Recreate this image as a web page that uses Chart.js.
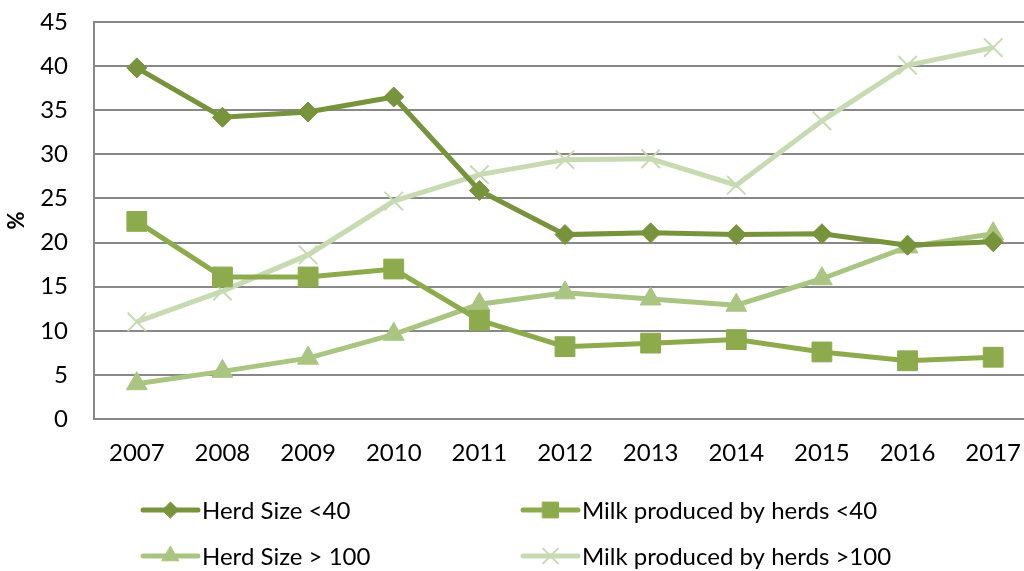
<!DOCTYPE html>
<html>
<head>
<meta charset="utf-8">
<script src="https://cdn.jsdelivr.net/npm/chart.js@4"></script>
<style>
  html, body { margin: 0; padding: 0; background: #fff; overflow: hidden; width: 1024px; height: 571px; }
  #wrap { width: 1040px; height: 571px; }
  #chart { display: block; width: 1040px; height: 571px; }
</style>
</head>
<body>
<div id="wrap"><canvas id="chart" width="1040" height="571"></canvas></div>
<script>
// categories
const years = ["2007", "2008", "2009", "2010", "2011", "2012", "2013", "2014", "2015", "2016", "2017"];
// series values (%)
const herdUnder40 = [39.8, 34.2, 34.8, 36.5, 25.9, 20.9, 21.1, 20.9, 21.0, 19.7, 20.1];
const milkUnder40 = [22.4, 16.1, 16.1, 17.0, 11.2, 8.2, 8.6, 9.0, 7.6, 6.6, 7.0];
const herdOver100 = [4.0, 5.4, 6.9, 9.6, 13.0, 14.3, 13.6, 12.9, 15.9, 19.5, 21.0];
const milkOver100 = [11.0, 14.5, 18.6, 24.7, 27.7, 29.4, 29.5, 26.5, 33.8, 40.1, 42.1];
const seriesNames = ["Herd Size <40", "Milk produced by herds <40", "Herd Size > 100", "Milk produced by herds >100"];

const FONT = "Lato, 'Liberation Sans', sans-serif";
const FSIZE = 24;

// legend drawn by hand: 2 rows x 2 columns under the axis
const legendPlugin = {
    id: "gridLegend",
    afterDraw(chart) {
        const ctx = chart.ctx;
        const cols = [143, 523];
        const rows = [510, 556];
        chart.data.datasets.forEach((ds, i) => {
            const x = cols[i % 2];
            const y = rows[Math.floor(i / 2)];
            ctx.save();
            ctx.strokeStyle = ds.borderColor;
            ctx.lineWidth = 5;
            ctx.lineCap = "round";
            ctx.beginPath();
            ctx.moveTo(x, y);
            ctx.lineTo(x + 55, y);
            ctx.stroke();
            ctx.fillStyle = ds.pointBackgroundColor;
            ctx.strokeStyle = ds.pointBorderColor;
            ctx.lineWidth = ds.pointBorderWidth;
            Chart.helpers.drawPoint(ctx, {
                pointStyle: ds.pointStyle,
                radius: ds.pointRadius * 0.8,
                borderWidth: ds.pointBorderWidth,
                rotation: 0
            }, x + 27.5, y);
            ctx.fillStyle = "#000";
            ctx.font = FSIZE + "px " + FONT;
            ctx.textBaseline = "middle";
            ctx.textAlign = "left";
            ctx.fillText(ds.label, x + 59, y + 1);
            ctx.restore();
        });
    }
};

function series(label, data, color, style, radius, pbw) {
    return {
        label, data,
        borderColor: color,
        backgroundColor: color,
        borderWidth: 5,
        pointStyle: style,
        pointRadius: radius,
        pointHoverRadius: radius,
        pointBackgroundColor: color,
        pointBorderColor: color,
        pointBorderWidth: pbw,
        tension: 0
    };
}

new Chart(document.getElementById("chart"), {
    type: "line",
    data: {
        labels: years,
        datasets: [
            series(seriesNames[0], herdUnder40, "#77933C", "rectRot", 10, 1),
            series(seriesNames[1], milkUnder40, "#8DAB4D", "rect", 14, 1),
            series(seriesNames[2], herdOver100, "#AAC581", "triangle", 12, 1),
            series(seriesNames[3], milkOver100, "#C8DAB2", "crossRot", 13, 2)
        ]
    },
    plugins: [legendPlugin],
    options: {
        responsive: false,
        animation: false,
        // no extra padding for the big markers, the plot runs past the right edge
        layout: { autoPadding: false, padding: { top: 22, right: 4, left: 0, bottom: 0 } },
        plugins: { legend: { display: false }, tooltip: { enabled: false } },
        scales: {
            x: {
                offset: true,
                grid: { display: false, drawTicks: false },
                border: { display: false },
                ticks: { color: "#000", font: { family: FONT, size: FSIZE }, padding: 20, maxRotation: 0 },
                afterFit(scale) {
                    scale.height = 152;
                    scale.paddingLeft = 0;
                    scale.paddingRight = 0;
                }
            },
            y: {
                min: 0, max: 45,
                ticks: { stepSize: 5, color: "#000", font: { family: FONT, size: FSIZE }, padding: 26 },
                grid: { color: "#888888", lineWidth: 2, drawTicks: false },
                border: { display: true, color: "#888888", width: 2 },
                title: { display: true, text: "%", color: "#000", font: { family: FONT, size: 22, weight: "bold" }, padding: { top: 4, bottom: 4 } },
                afterFit(scale) {
                    scale.width = 94;
                    scale.paddingTop = 0;
                    scale.paddingBottom = 0;
                }
            }
        }
    }
});
</script>
</body>
</html>
